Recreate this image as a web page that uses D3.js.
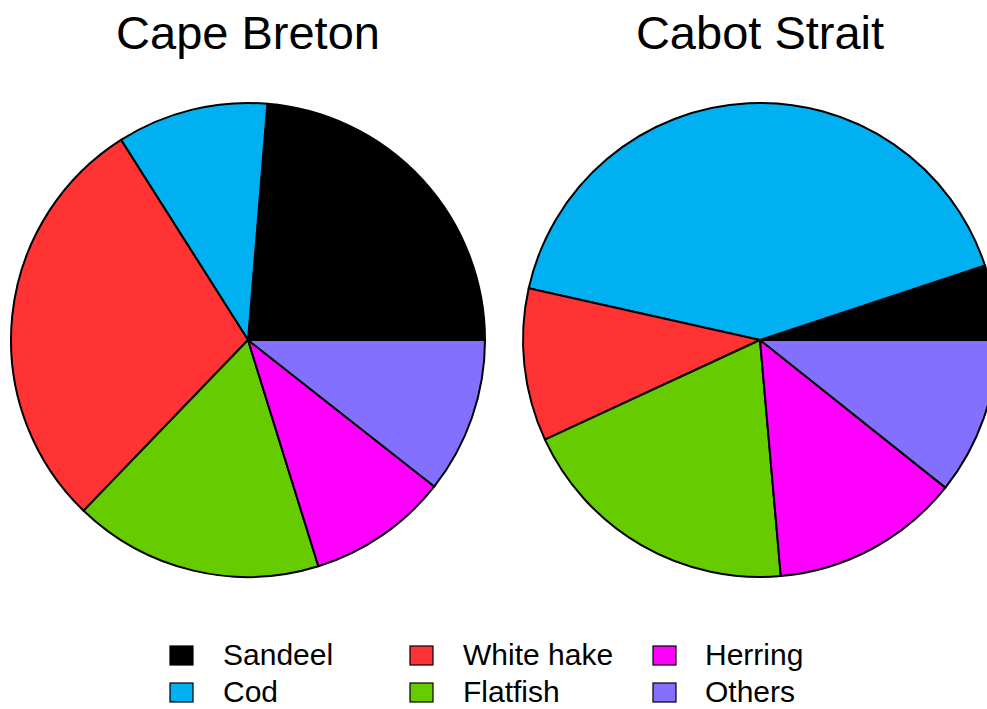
<!DOCTYPE html>
<html>
<head>
<meta charset="utf-8">
<title>Cape Breton / Cabot Strait diet pies</title>
<script src="https://cdn.jsdelivr.net/npm/d3@7"></script>
<style>
  body { margin: 0; background: #fff; }
  text { font-family: "Liberation Sans", Arial, sans-serif; fill: #000; }
</style>
</head>
<body>
<script>
// data (percent of diet)
var categories = ["Sandeel", "Cod", "White hake", "Flatfish", "Herring", "Others"];
var colors = ["#000000", "#00B0F0", "#FF3333", "#66CC00", "#FF00FF", "#8470FF"];
var regions = ["Cape Breton", "Cabot Strait"];
var capeBreton = [23.7, 10.3, 28.8, 17.0, 9.6, 10.6];
var cabotStrait = [5.1, 41.4, 10.4, 19.5, 12.9, 10.7];

var w = 987, h = 709;
var r = 237;
var centers = [[248, 340], [760, 340]];

var svg = d3.select("body").append("svg")
    .attr("width", w)
    .attr("height", h);

var color = d3.scaleOrdinal().domain(categories).range(colors);

// R style pie: starts at 3 o'clock, goes counter clockwise
var pie = d3.pie()
    .sort(null)
    .startAngle(Math.PI / 2)
    .endAngle(Math.PI / 2 - 2 * Math.PI);

var arc = d3.arc().innerRadius(0).outerRadius(r);

[capeBreton, cabotStrait].forEach(function(vals, k) {
    var rows = categories.map(function(c, i) { return { name: c, value: vals[i] }; });
    var g = svg.append("g")
        .attr("transform", "translate(" + centers[k][0] + "," + centers[k][1] + ")");

    g.selectAll("path")
        .data(pie.value(function(d) { return d.value; })(rows))
        .enter()
        .append("path")
        .attr("d", arc)
        .attr("fill", function(d) { return color(d.data.name); })
        .attr("stroke", "#000")
        .attr("stroke-width", 2)
        .attr("stroke-linejoin", "round");

    svg.append("text")
        .attr("x", centers[k][0])
        .attr("y", 49)
        .attr("text-anchor", "middle")
        .attr("font-size", "47px")
        .text(regions[k]);
});

// legend, 3 columns x 2 rows, filled by column
var boxX = [170, 410, 653];
var textX = [223, 463, 705];
var rowY = [646, 683];

var leg = svg.append("g").selectAll("g")
    .data(categories)
    .enter()
    .append("g");

leg.append("rect")
    .attr("x", function(d, i) { return boxX[Math.floor(i / 2)]; })
    .attr("y", function(d, i) { return rowY[i % 2]; })
    .attr("width", 23)
    .attr("height", 19)
    .attr("fill", function(d) { return color(d); })
    .attr("stroke", "#000")
    .attr("stroke-width", 1.2);

leg.append("text")
    .attr("x", function(d, i) { return textX[Math.floor(i / 2)]; })
    .attr("y", function(d, i) { return rowY[i % 2] + 19; })
    .attr("font-size", "30px")
    .text(function(d) { return d; });
</script>
</body>
</html>
